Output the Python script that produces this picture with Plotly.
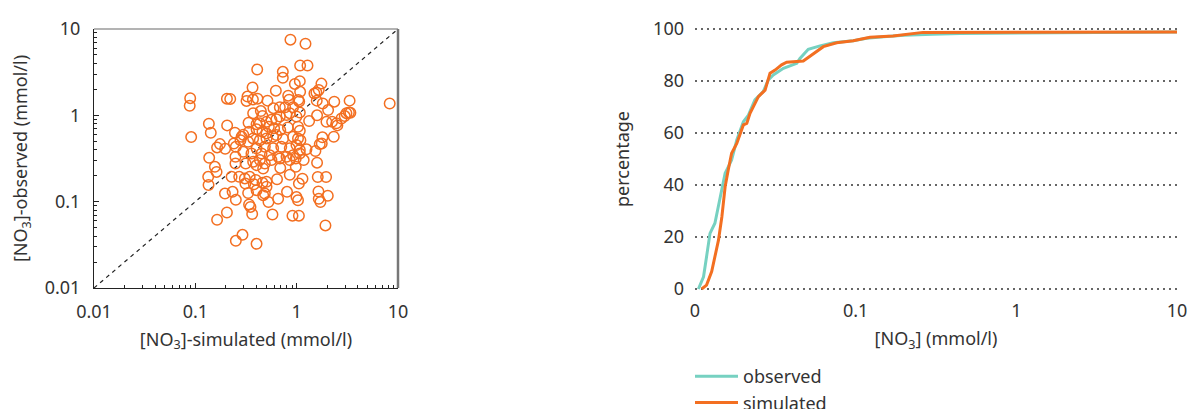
import plotly.graph_objects as go

# ---------------- data ----------------
sim_x = [0.868, 1.222, 1.082, 1.279, 0.408, 0.730, 0.730, 0.960, 1.074, 1.755,
         0.367, 0.623, 1.566, 1.652, 1.497, 0.089, 0.088, 0.205, 0.221, 0.327,
         0.320, 0.370, 0.411, 0.515, 0.825, 0.843, 1.038, 1.059, 1.082, 1.578,
         1.808, 2.35, 3.33, 8.28, 0.770, 0.590, 0.682, 0.922, 0.443, 0.460,
         0.372, 2.043, 1.590, 1.327, 1.074, 0.995, 3.098, 3.28, 3.39, 2.983,
         2.766, 2.468, 2.238, 1.967, 2.52, 0.136, 0.142, 0.206, 0.091, 0.335,
         0.402, 0.433, 0.504, 0.564, 0.631, 0.682, 0.794, 0.855, 0.531, 0.599,
         0.689, 0.819, 1.031, 1.074, 0.297, 0.286, 0.246, 0.339, 0.402, 0.460,
         0.504, 0.631, 1.795, 2.323, 1.768, 1.690, 0.175, 0.164, 0.197, 0.240,
         0.251, 0.279, 0.332, 0.372, 0.433, 0.504, 0.586, 0.735, 0.922, 1.031,
         1.089, 0.402, 0.485, 0.586, 0.705, 0.855, 0.995, 1.074, 1.250, 0.137,
         0.249, 0.297, 0.358, 0.450, 0.543, 0.656, 0.794, 0.922, 1.074, 1.531,
         0.249, 0.314, 0.372, 0.433, 0.485, 0.564, 0.682, 0.855, 0.980, 1.173,
         1.590, 0.689, 0.980, 0.467, 0.402, 0.156, 0.162, 0.134, 0.135, 0.228,
         0.271, 0.308, 0.344, 0.395, 0.312, 0.378, 0.460, 0.504, 0.640, 0.855,
         1.141, 1.052, 1.615, 1.952, 0.196, 0.233, 0.251, 0.332, 0.402, 0.467,
         0.504, 0.485, 0.656, 0.803, 0.995, 1.031, 1.640, 1.652, 1.716, 2.028,
         0.527, 0.339, 0.350, 0.364, 0.205, 0.164, 0.577, 0.909, 1.052, 1.923,
         0.292, 0.251, 0.402]
obs_y = [7.52, 6.75, 3.78, 3.78, 3.40, 3.19, 2.72, 2.31, 2.49, 2.33,
         2.10, 1.93, 1.84, 1.97, 1.79, 1.58, 1.29, 1.56, 1.55, 1.65,
         1.47, 1.53, 1.56, 1.48, 1.69, 1.52, 1.51, 1.45, 1.87, 1.48,
         1.37, 1.44, 1.48, 1.37, 1.24, 1.21, 1.24, 1.24, 1.12, 0.98,
         1.06, 1.15, 1.00, 0.86, 1.08, 0.97, 1.06, 1.08, 1.07, 0.98,
         0.92, 0.807, 0.84, 0.84, 0.765, 0.80, 0.629, 0.765, 0.560, 0.82,
         0.79, 0.807, 0.84, 0.89, 0.90, 0.97, 1.01, 1.06, 0.738, 0.707,
         0.675, 0.725, 0.738, 0.663, 0.595, 0.565, 0.629, 0.646, 0.688, 0.646,
         0.618, 0.590, 0.556, 0.565, 0.472, 0.464, 0.464, 0.425, 0.41, 0.472,
         0.432, 0.516, 0.494, 0.54, 0.516, 0.54, 0.565, 0.537, 0.565, 0.54,
         0.516, 0.415, 0.432, 0.415, 0.432, 0.415, 0.453, 0.398, 0.404, 0.322,
         0.331, 0.378, 0.361, 0.361, 0.345, 0.331, 0.331, 0.345, 0.361, 0.385,
         0.277, 0.277, 0.29, 0.303, 0.277, 0.303, 0.316, 0.303, 0.316, 0.303,
         0.283, 0.246, 0.253, 0.242, 0.265, 0.253, 0.221, 0.194, 0.156, 0.194,
         0.194, 0.186, 0.194, 0.178, 0.162, 0.159, 0.166, 0.170, 0.182, 0.205,
         0.184, 0.162, 0.193, 0.193, 0.124, 0.130, 0.105, 0.126, 0.136, 0.119,
         0.149, 0.124, 0.108, 0.130, 0.113, 0.104, 0.131, 0.108, 0.099, 0.117,
         0.099, 0.093, 0.087, 0.072, 0.075, 0.0618, 0.071, 0.0688, 0.0688, 0.0531,
         0.0413, 0.0352, 0.0325]

one_to_one = [0.01, 10]

cdf_obs_x = [0.0105, 0.0113, 0.0118, 0.0124, 0.0133, 0.0143, 0.0154, 0.0169, 0.0182,
             0.0200, 0.0215, 0.0236, 0.0266, 0.0286, 0.0307, 0.0355, 0.0430, 0.0450,
             0.0507, 0.0600, 0.0726, 0.0966, 0.117, 0.149, 0.20, 0.30, 0.446, 10]
cdf_obs_y = [0, 4.7, 12.4, 21.4, 25.3, 34.2, 44.5, 49.6, 57.3,
             64.3, 66.9, 72.7, 75.9, 80.4, 82.3, 84.9, 86.8, 88.7,
             92.2, 93.5, 94.7, 95.5, 96.4, 97.0, 97.6, 98.0, 98.3, 98.8]
cdf_sim_x = [0.0110, 0.0118, 0.0127, 0.0133, 0.0140, 0.0147, 0.0154, 0.0161, 0.0169,
             0.0182, 0.0200, 0.0210, 0.0220, 0.0248, 0.0273, 0.0293, 0.0315, 0.0346,
             0.0372, 0.0472, 0.0545, 0.0629, 0.0762, 0.0966, 0.1228, 0.171, 0.262, 10]
cdf_sim_y = [0, 1.5, 6.7, 12.4, 18.8, 27.8, 39.3, 45.8, 52.2,
             56.0, 63.1, 63.7, 67.6, 74.0, 76.5, 83.0, 84.2, 86.2,
             87.2, 87.7, 90.6, 93.2, 94.7, 95.5, 96.8, 97.3, 98.7, 98.8]

x_tickvals = [0.01, 0.1, 1, 10]
left_ticktext = ["0.01", "0.1", "1", "10"]
right_x_ticktext = ["0", "0.1", "1", "10"]
right_y_ticks = [0, 20, 40, 60, 80, 100]

# ---------------- styling ----------------
ORANGE = "#F36F21"
TEAL = "#76D1C1"
TXT = "#333333"
FONT = "Noto Sans"
FS = 18

fig = go.Figure()

fig.add_trace(go.Scatter(
    x=one_to_one, y=one_to_one, mode="lines",
    line=dict(color="#222222", width=1.2, dash="4px,4px"),
    showlegend=False, hoverinfo="skip", xaxis="x", yaxis="y"))

fig.add_trace(go.Scatter(
    x=sim_x, y=obs_y, mode="markers",
    marker=dict(symbol="circle-open", size=10.5, color=ORANGE, line=dict(width=1.5, color=ORANGE)),
    showlegend=False, xaxis="x", yaxis="y"))

fig.add_trace(go.Scatter(
    x=cdf_obs_x, y=cdf_obs_y, mode="lines", name="observed",
    line=dict(color=TEAL, width=3), xaxis="x2", yaxis="y2"))
fig.add_trace(go.Scatter(
    x=cdf_sim_x, y=cdf_sim_y, mode="lines", name="simulated",
    line=dict(color=ORANGE, width=3), xaxis="x2", yaxis="y2"))

# page has an 8px body margin; figure occupies the rest of the window
OFF = 8
W, H = 1195 - OFF, 409 - OFF


def px_x(p):
    return (p - OFF) / W


def px_y(p):
    return 1 - (p - OFF) / H


ydom_left = [px_y(288), px_y(29)]
# right panel: 0 -> y=289 px, 100 -> y=29 px, range padded by 0.5
ydom_right = [px_y(290.3), px_y(27.7)]

tf = dict(color=TXT, size=FS, family=FONT)

fig.update_layout(
    width=W, height=H, autosize=False,
    margin=dict(l=0, r=0, t=0, b=0, autoexpand=False),
    paper_bgcolor="white", plot_bgcolor="white",
    font=dict(family=FONT, size=FS, color=TXT),
    xaxis=dict(
        type="log", range=[-2, 1], domain=[px_x(94), px_x(398)], automargin=False,
        tickvals=x_tickvals, ticktext=left_ticktext, tickfont=tf,
        ticks="inside", ticklen=5, tickcolor="#222", showgrid=False, zeroline=False,
        showline=True, linecolor="#222", linewidth=1,
        minor=dict(ticks="inside", ticklen=3, tickcolor="#222", dtick="D1", showgrid=False),
        ticklabelstandoff=7,
        title=dict(text="[NO<sub>3</sub>]-simulated (mmol/l)", font=tf, standoff=11),
        anchor="y"),
    yaxis=dict(
        type="log", range=[-2, 1], domain=ydom_left, automargin=False,
        tickvals=x_tickvals, ticktext=left_ticktext, tickfont=tf,
        ticks="inside", ticklen=5, tickcolor="#222", showgrid=False, zeroline=False,
        showline=True, linecolor="#222", linewidth=1,
        minor=dict(ticks="inside", ticklen=3, tickcolor="#222", dtick="D1", showgrid=False),
        ticklabelstandoff=9,
        title=dict(text="[NO<sub>3</sub>]-observed (mmol/l)", font=tf, standoff=14),
        anchor="x"),
    xaxis2=dict(
        type="log", range=[-2, 1], domain=[px_x(695), px_x(1177)], automargin=False,
        tickvals=x_tickvals, ticktext=right_x_ticktext, tickfont=tf,
        ticks="", showgrid=False, zeroline=False, showline=False,
        ticklabelstandoff=8,
        title=dict(text="[NO<sub>3</sub>] (mmol/l)", font=tf, standoff=11),
        anchor="y2"),
    yaxis2=dict(
        range=[-0.5, 100.5], domain=ydom_right, automargin=False,
        tickvals=right_y_ticks, tickfont=tf,
        ticks="", showline=False, zeroline=False,
        showgrid=True, gridcolor="#666666", gridwidth=1.5, griddash="1.5px,4.5px",
        title=dict(text="percentage", font=tf, standoff=18),
        ticklabelstandoff=10,
        anchor="x2"),
    legend=dict(
        x=px_x(690), y=px_y(358), xanchor="left", yanchor="top",
        font=dict(family=FONT, size=FS, color=TXT),
        bgcolor="rgba(0,0,0,0)", tracegroupgap=0, itemwidth=43, maxheight=200),
    showlegend=True,
)

# grey top/right frame of the scatter panel
fig.add_shape(type="line", xref="x domain", yref="y domain", x0=0, x1=1, y0=1, y1=1,
              line=dict(color="#9a9a9a", width=1.5))
fig.add_shape(type="line", xref="x domain", yref="y domain", x0=1, x1=1, y0=0, y1=1,
              line=dict(color="#777777", width=2.5))

fig.write_html("out.html")
